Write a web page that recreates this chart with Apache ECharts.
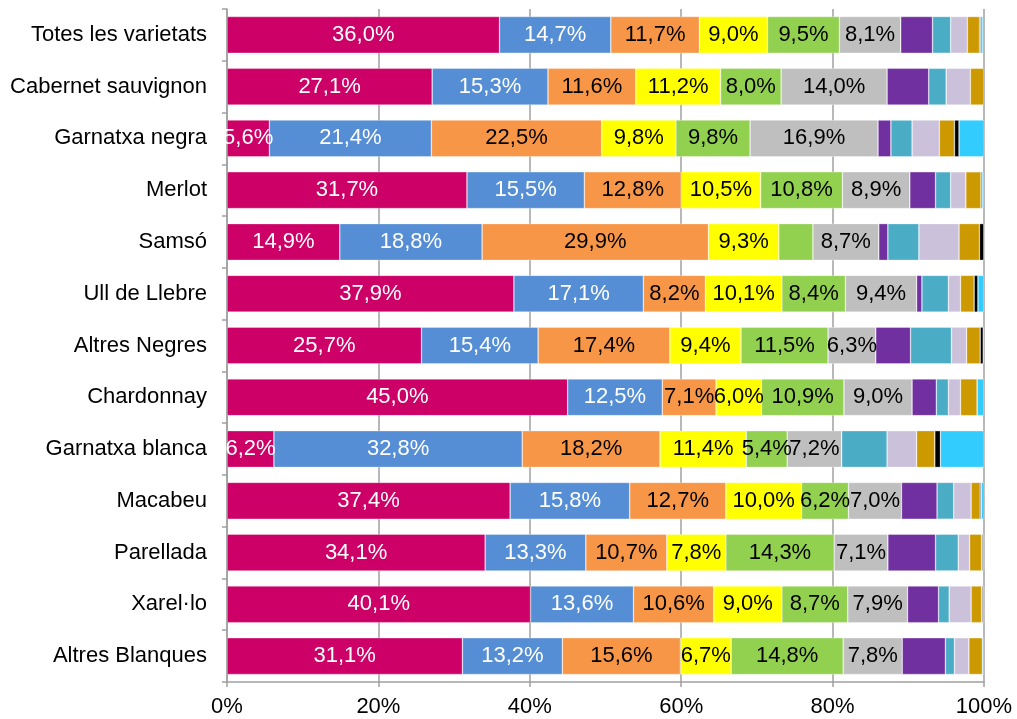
<!DOCTYPE html>
<html>
<head>
<meta charset="utf-8">
<script src="https://cdn.jsdelivr.net/npm/echarts@6/dist/echarts.min.js"></script>
<style>
html,body{margin:0;padding:0;background:#fff;}
#chart{width:1017px;height:719px;}
</style>
</head>
<body>
<div id="chart"></div>
<script>
const categories = ["Totes les varietats","Cabernet sauvignon","Garnatxa negra","Merlot","Samsó","Ull de Llebre","Altres Negres","Chardonnay","Garnatxa blanca","Macabeu","Parellada","Xarel·lo","Altres Blanques"];
const xTicks = [0,20,40,60,80,100];
const seg1 = [36.0,27.1,5.6,31.7,14.9,37.9,25.7,45.0,6.2,37.4,34.1,40.1,31.1];
const seg2 = [14.7,15.3,21.4,15.5,18.8,17.1,15.4,12.5,32.8,15.8,13.3,13.6,13.2];
const seg3 = [11.7,11.6,22.5,12.8,29.9,8.2,17.4,7.1,18.2,12.7,10.7,10.6,15.6];
const seg4 = [9.0,11.2,9.8,10.5,9.3,10.1,9.4,6.0,11.4,10.0,7.8,9.0,6.7];
const seg5 = [9.5,8.0,9.8,10.8,4.5,8.4,11.5,10.9,5.4,6.2,14.3,8.7,14.8];
const seg6 = [8.1,14.0,16.9,8.9,8.7,9.4,6.3,9.0,7.2,7.0,7.1,7.9,7.8];
const seg7 = [4.2,5.5,1.7,3.4,1.2,0.7,4.6,3.2,0,4.7,6.3,4.1,5.7];
const seg8 = [2.4,2.3,2.8,2.0,4.1,3.5,5.4,1.6,6.0,2.2,3.0,1.4,1.2];
const seg9 = [2.2,3.2,3.6,2.0,5.3,1.6,2.0,1.6,3.9,2.3,1.5,2.9,1.9];
const seg10 = [1.6,1.8,2.0,2.0,2.7,1.8,1.8,2.2,2.4,1.2,1.6,1.4,1.8];
const seg11 = [0.15,0.1,0.6,0.15,0.6,0.5,0.4,0,0.75,0.15,0.15,0.15,0];
const seg12 = [0.3,0,3.35,0.2,0,0.8,0.1,0.9,5.8,0.4,0.2,0.2,0.2];

const segs = [seg1,seg2,seg3,seg4,seg5,seg6,seg7,seg8,seg9,seg10,seg11,seg12];
const colors = ['#CC0066','#558ED5','#F79646','#FFFF00','#92D050','#BFBFBF','#7030A0','#4BACC6','#CCC1DA','#CC9900','#000000','#33CCFF'];
const labelled = [true,true,true,true,true,true,false,false,false,false,false,false];
const labelColors = ['#fff','#fff','#000','#000','#000','#000'];
const FONT = '"Liberation Sans", Arial, sans-serif';

const series = segs.map((d,i)=>({
  name: 'Sèrie ' + (i+1),
  type: 'bar',
  stack: 'total',
  data: d,
  barCategoryGap: '29%',
  itemStyle: {color: colors[i], borderColor: 'rgba(255,255,255,0.55)', borderWidth: 0.6},
  label: {
    show: labelled[i],
    position: 'inside',
    color: labelColors[i] || '#000',
    fontFamily: FONT,
    fontSize: 22,
    formatter: p => p.value >= 5 ? p.value.toFixed(1).replace('.', ',') + '%' : ''
  },
  emphasis: {disabled: true},
  animation: false
}));

const chart = echarts.init(document.getElementById('chart'));
chart.setOption({
  animation: false,
  grid: {left: 227, right: 33, top: 9, bottom: 37, containLabel: false},
  xAxis: {
    type: 'value', min: 0, max: 100, interval: 20,
    axisLine: {show: true, lineStyle: {color: '#A0A0A0', width: 1.5}},
    axisTick: {show: true, length: 5, lineStyle: {color: '#A0A0A0', width: 1.5}},
    splitLine: {show: true, lineStyle: {color: '#A0A0A0', width: 1.5}},
    axisLabel: {color: '#000', fontFamily: FONT, fontSize: 22, margin: 14,
      formatter: v => xTicks.includes(v) ? v + '%' : ''}
  },
  yAxis: {
    type: 'category', data: categories, inverse: true,
    axisLine: {show: true, lineStyle: {color: '#A0A0A0', width: 1.5}},
    axisTick: {show: true, length: 5, lineStyle: {color: '#A0A0A0', width: 1.5}},
    axisLabel: {color: '#000', fontFamily: FONT, fontSize: 22, margin: 20}
  },
  series: series
});
</script>
</body>
</html>
